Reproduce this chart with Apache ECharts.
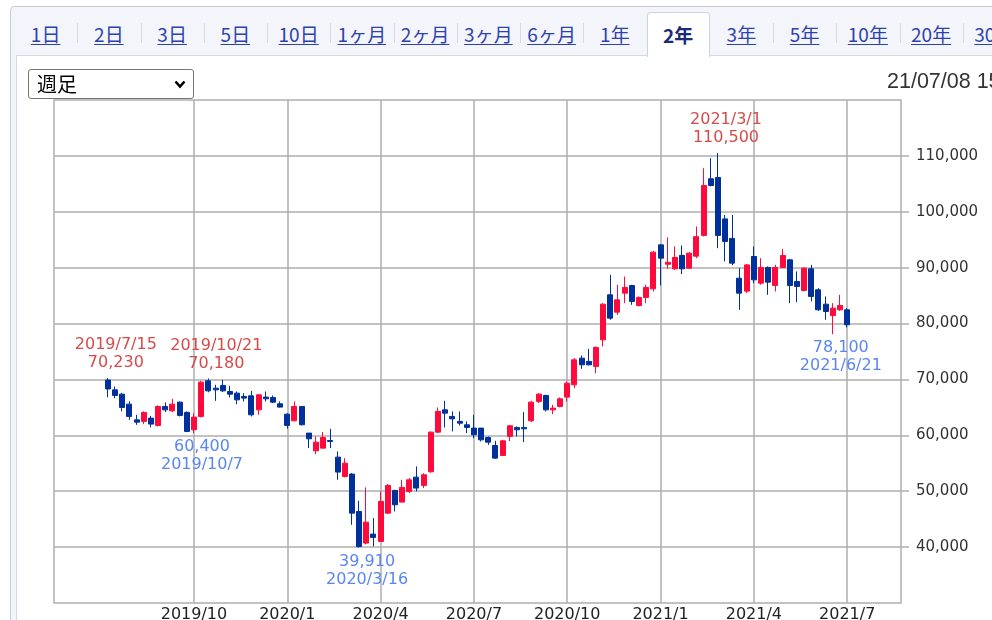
<!DOCTYPE html>
<html>
<head>
<meta charset="utf-8">
<title>2年 週足</title>
<script src="https://cdn.jsdelivr.net/npm/echarts@6/dist/echarts.min.js"></script>
<style>
html, body { margin: 0; padding: 0; width: 992px; height: 620px; overflow: hidden; background: #fff; }
#outer { position: absolute; left: 10px; top: 6px; width: 1100px; height: 700px; border: 1px solid #c9cbd0; border-radius: 4px; background: #f3f5fb; }
#panel { position: absolute; left: 16px; top: 55px; width: 1100px; height: 700px; border-top: 1px solid #d5d9e3; border-left: 1px solid #d5d9e3; background: #fff; }
#tabs { position: absolute; left: 14px; top: 12px; height: 44px; white-space: nowrap; font-family: "Noto Sans CJK JP", sans-serif; font-size: 19px; }
.tab { position: absolute; top: 0; width: 63px; height: 44px; text-align: center; line-height: 44px; }
.tab a { color: #2e42ad; text-decoration: underline; text-underline-offset: 2px; }
.sep { position: absolute; top: 11px; width: 1px; height: 20px; background: #d7dae2; }
.tab.on { background: #fff; border: 1px solid #cfd3de; border-bottom: none; border-radius: 4px 4px 0 0; height: 44px; top: 0; }
.tab.on a { color: #1c2a7a; font-weight: bold; text-decoration: none; }
#chart { position: absolute; left: 0; top: 0; width: 992px; height: 620px; }
#sel { position: absolute; left: 28px; top: 69px; height: 28px; border: 1px solid #767676; border-radius: 3px; background: #fff;
       font-family: "Noto Sans CJK JP", sans-serif; font-size: 20px; line-height: 28px; padding-left: 8px; width: 156px; color: #000; }
#sel svg { position: absolute; right: 7px; top: 10px; }
#stamp { position: absolute; left: 887px; top: 69px; font-family: "Liberation Sans", Arial, sans-serif; font-size: 21.5px; color: #333; white-space: nowrap; }
</style>
</head>
<body>
<div id="outer"></div>
<div id="panel"></div>
<div id="tabs"></div>
<div id="chart"></div>
<div id="sel">週足<svg width="12" height="9" viewBox="0 0 12 9"><path d="M1.5 1.5 L6 6.5 L10.5 1.5" fill="none" stroke="#000" stroke-width="2.6"/></svg></div>
<div id="stamp">21/07/08 15:00</div>
<script>
// period tabs
var tabNames = ['1日', '2日', '3日', '5日', '10日', '1ヶ月', '2ヶ月', '3ヶ月', '6ヶ月', '1年', '2年', '3年', '5年', '10年', '20年', '30年'];
var activeTab = '2年';

// weekly candles, first week 2019/7/15
var firstWeek = [2019, 7, 15];
var openVals = [69900, 68140, 67370, 65580, 62770, 62490, 63080, 61770, 65170, 64380,
  65940, 64100, 61000, 63380, 69750, 68440, 68930, 67850, 67550, 66960,
  67070, 64560, 66840, 66780, 65640, 63790, 62600, 65170, 60400, 57230,
  57710, 59080, 56100, 52640, 53060, 46380, 40720, 42330, 41020, 46080,
  50140, 48050, 49960, 52520, 51040, 53480, 60570, 64560, 63380, 62490,
  61880, 61290, 61290, 59620, 58190, 56400, 59800, 61410, 61410, 62610,
  66070, 67140, 64560, 65170, 66840, 69040, 73810, 73220, 72330, 77090,
  85140, 82040, 85440, 86810, 83240, 84670, 86210, 94080, 90610, 89790,
  92200, 89910, 92060, 95770, 105900, 106140, 98730, 95230, 88120, 85800,
  92000, 87230, 90040, 86820, 90040, 91400, 87530, 85920, 89790, 86040,
  83470, 81440, 82460, 82460];
var closeVals = [68300, 67140, 64990, 63380, 62360, 64100, 62010, 65170, 64560, 65580,
  63560, 60700, 63260, 69520, 67960, 68140, 67960, 67370, 66350, 66660,
  63670, 67250, 66530, 65940, 65050, 61770, 65170, 61890, 59380, 58780,
  59620, 58900, 53420, 55020, 46080, 40100, 44470, 41730, 48180, 51040,
  47570, 50680, 52040, 50560, 52940, 60570, 64280, 63970, 62950, 62180,
  61410, 60090, 59200, 58780, 55920, 59020, 61700, 60990, 61170, 65940,
  67370, 64560, 64870, 66530, 69340, 73510, 72620, 72620, 75730, 83470,
  80970, 84240, 86450, 83950, 84670, 86460, 92780, 91700, 90960, 91820,
  89790, 92600, 95550, 104710, 104710, 95770, 94680, 90810, 85440, 90490,
  87820, 90040, 87410, 90040, 92180, 86820, 86640, 89910, 84850, 82460,
  82160, 82760, 83240, 79780];
var lowVals = [66800, 66650, 64280, 62780, 61880, 62000, 61420, 61590, 64150, 64150,
  63380, 60570, 60400, 63200, 67700, 66170, 67730, 66790, 65580, 66070,
  63380, 63670, 66070, 65760, 65000, 61200, 62490, 61770, 57710, 56640,
  57710, 57710, 52040, 52470, 43990, 39910, 40500, 40130, 40900, 45900,
  46380, 48050, 49660, 49960, 50560, 53300, 60400, 61410, 60700, 61770,
  60400, 59500, 58900, 58300, 55800, 56400, 58960, 59800, 58780, 62360,
  65760, 64280, 63790, 65000, 66070, 68440, 71900, 72500, 71130, 75910,
  80670, 81560, 83650, 83350, 83060, 83650, 85740, 86820, 89790, 89610,
  88840, 89790, 91700, 95590, 104530, 93490, 91110, 90450, 82460, 85440,
  87230, 86940, 85140, 85740, 89910, 83650, 83830, 85740, 83950, 82270,
  80670, 78100, 82270, 79300];
var highVals = [70230, 68750, 67600, 66070, 63670, 64280, 63490, 65350, 65890, 66530,
  66070, 64280, 63970, 69750, 70180, 69040, 69930, 68860, 67850, 67550,
  67960, 67370, 67850, 67140, 66070, 63970, 66070, 65200, 60400, 59800,
  60580, 61160, 57120, 55920, 53240, 48280, 50680, 45190, 49960, 51270,
  50250, 52040, 52340, 54440, 53240, 60700, 64990, 66180, 64280, 64280,
  62490, 63680, 61290, 59800, 59020, 59200, 61880, 61590, 64150, 66170,
  67550, 67250, 65460, 66780, 69640, 73810, 74290, 75470, 75910, 83650,
  88720, 86930, 88420, 86930, 84850, 86930, 93010, 94210, 95410, 93790,
  93970, 92780, 97380, 107800, 109590, 110500, 99440, 99440, 89910, 90630,
  93790, 91700, 90220, 90510, 93370, 91580, 89320, 90040, 90510, 86340,
  84850, 83650, 85140, 82760];

// empty weeks shown on each side of the data
var padWeeks = 7;

// axis ticks
var xTickWeeks = ['2019/10/7', '2020/1/6', '2020/4/6', '2020/7/6', '2020/10/5', '2021/1/4', '2021/4/5', '2021/7/5'];
var xTickLabels = ['2019/10', '2020/1', '2020/4', '2020/7', '2020/10', '2021/1', '2021/4', '2021/7'];
var yTicks = [40000, 50000, 60000, 70000, 80000, 90000, 100000, 110000];

// highs / lows written on the chart
var highMarks = [['2019/7/15', 70230], ['2019/10/21', 70180], ['2021/3/1', 110500]];
var lowMarks = [['2019/10/7', 60400], ['2020/3/16', 39910], ['2021/6/21', 78100]];

var upColor = '#ff0a3c';
var downColor = '#00309c';
var gridColor = '#aeaeae';

// tabs
var tabsEl = document.getElementById('tabs');
var cellW = 63.25;
tabNames.forEach(function (name, i) {
  var d = document.createElement('div');
  d.className = 'tab' + (name === activeTab ? ' on' : '');
  d.style.left = (i * cellW) + 'px';
  d.style.width = (name === activeTab ? cellW - 2 : cellW) + 'px';
  d.innerHTML = '<a>' + name + '</a>';
  tabsEl.appendChild(d);
  if (i > 0 && name !== activeTab && tabNames[i - 1] !== activeTab) {
    var s = document.createElement('div');
    s.className = 'sep';
    s.style.left = (i * cellW) + 'px';
    tabsEl.appendChild(s);
  }
});

function fmtDate(t) {
  var d = new Date(t);
  return d.getUTCFullYear() + '/' + (d.getUTCMonth() + 1) + '/' + d.getUTCDate();
}
function fmtNum(v) {
  return v.toLocaleString('en-US');
}

var WEEK = 7 * 24 * 3600 * 1000;
var t0 = Date.UTC(firstWeek[0], firstWeek[1] - 1, firstWeek[2]);
var weeks = [];
var candles = [];
for (var i = -padWeeks; i < openVals.length + padWeeks; i++) {
  weeks.push(fmtDate(t0 + i * WEEK));
  if (i >= 0 && i < openVals.length) {
    candles.push([openVals[i], closeVals[i], lowVals[i], highVals[i]]);
  } else {
    candles.push(['-', '-', '-', '-']);
  }
}

function isTick(idx, value) {
  return xTickWeeks.indexOf(weeks[idx]) >= 0;
}

var markFont = { fontFamily: 'DejaVu Sans', fontSize: 16, lineHeight: 18, align: 'center' };
var marks = [];
highMarks.forEach(function (m) {
  marks.push({
    coord: [m[0], m[1]],
    label: Object.assign({ show: true, position: 'top', distance: 6, offset: [8, 0], color: '#d84a4a',
      formatter: m[0] + '\n' + fmtNum(m[1]) }, markFont)
  });
});
lowMarks.forEach(function (m) {
  marks.push({
    coord: [m[0], m[1]],
    label: Object.assign({ show: true, position: 'bottom', distance: 5, offset: [8, 0], color: '#5a86f2',
      formatter: fmtNum(m[1]) + '\n' + m[0] }, markFont)
  });
});

var chart = echarts.init(document.getElementById('chart'));
var option = {
  animation: false,
  grid: {
    left: 54, right: 91, top: 100, bottom: 17,
    outerBoundsMode: 'none',
    show: true, borderColor: gridColor, borderWidth: 1.5, backgroundColor: '#fff'
  },
  xAxis: {
    type: 'category',
    data: weeks,
    boundaryGap: true,
    axisLine: { show: false },
    axisTick: { show: false },
    axisLabel: {
      interval: isTick,
      margin: 4,
      color: '#222',
      fontSize: 16,
      fontFamily: 'DejaVu Sans',
      formatter: function (v) {
        var k = xTickWeeks.indexOf(v);
        return k >= 0 ? xTickLabels[k] : '';
      }
    },
    splitLine: { show: true, interval: isTick, alignWithLabel: true, lineStyle: { color: gridColor, width: 1.5 } }
  },
  yAxis: {
    type: 'value',
    position: 'right',
    min: 30000,
    max: 120000,
    interval: 10000,
    axisLine: { show: false },
    axisTick: { show: true, inside: false, length: 8, customValues: yTicks, lineStyle: { color: gridColor, width: 1.5 } },
    axisLabel: {
      customValues: yTicks,
      margin: 15,
      padding: [4, 0, 0, 0],
      color: '#333',
      fontSize: 15,
      fontFamily: 'DejaVu Sans',
      formatter: function (v) { return fmtNum(v); }
    },
    splitLine: { show: true, lineStyle: { color: gridColor, width: 1.5 } }
  },
  series: [{
    type: 'candlestick',
    data: candles,
    barWidth: 5.5,
    itemStyle: {
      color: upColor,
      color0: downColor,
      borderColor: upColor,
      borderColor0: downColor,
      borderWidth: 1
    },
    markPoint: {
      symbol: 'circle',
      symbolSize: 0,
      silent: true,
      data: marks
    }
  }]
};
chart.setOption(option);
</script>
</body>
</html>
